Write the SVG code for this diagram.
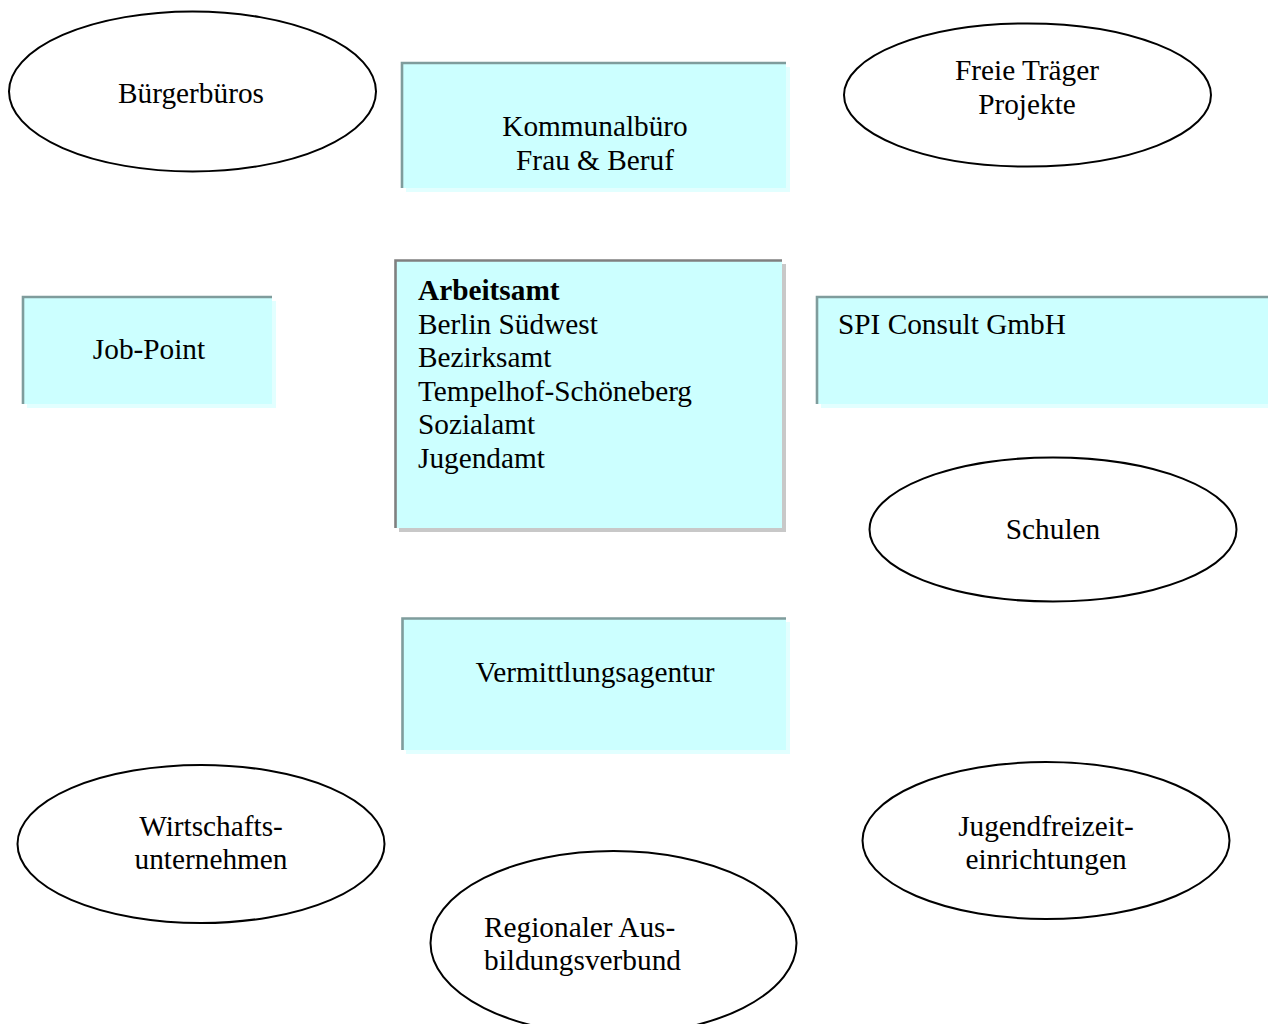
<svg xmlns="http://www.w3.org/2000/svg" width="1268" height="1024" viewBox="0 0 1268 1024">
<style>
.t{font-family:"Liberation Serif","Times New Roman",serif;font-size:29.3px;fill:#000}
.c{text-anchor:middle}
.b{font-weight:bold}
.ell{fill:#fff;stroke:#000;stroke-width:2}
.fill{fill:#ccffff}
.sh{fill:#e2ffff}
.shg{fill:#c8c8c8}
.bd{stroke:#7f9c9c;stroke-width:2.6;fill:none}
.bdg{stroke:#808080;stroke-width:2.6;fill:none}
</style>
<rect width="1268" height="1024" fill="#fff"/>
<g id="connectors"></g>

<g id="buergerbueros">
<ellipse class="ell" cx="192.5" cy="91.5" rx="183.5" ry="80"/>
<text class="t c" x="191" y="102.5">Bürgerbüros</text>
</g>

<g id="kommunalbuero">
<rect class="sh" x="406" y="67" width="384" height="125"/>
<rect class="fill" x="402" y="63" width="384" height="125"/>
<path class="bd" d="M786,63 H402 V188"/>
<text class="t c" x="595" y="135.5">Kommunalbüro</text>
<text class="t c" x="595" y="169.5">Frau &amp; Beruf</text>
</g>

<g id="freie-traeger">
<ellipse class="ell" cx="1027.5" cy="95" rx="183.5" ry="71.5"/>
<text class="t c" x="1027" y="79.5">Freie Träger</text>
<text class="t c" x="1027" y="113.5">Projekte</text>
</g>

<g id="job-point">
<rect class="sh" x="27" y="301" width="249" height="107"/>
<rect class="fill" x="23" y="297" width="249" height="107"/>
<path class="bd" d="M272,297 H23 V404"/>
<text class="t c" x="149" y="359">Job-Point</text>
</g>

<g id="arbeitsamt">
<rect class="shg" x="399" y="264" width="387" height="268"/>
<rect class="fill" x="395.5" y="260.5" width="386.5" height="267.5"/>
<path class="bdg" d="M782,260.5 H395.5 V528"/>
<text class="t b" x="418" y="300">Arbeitsamt</text>
<text class="t" x="418" y="334">Berlin Südwest</text>
<text class="t" x="418" y="367">Bezirksamt</text>
<text class="t" x="418" y="401">Tempelhof-Schöneberg</text>
<text class="t" x="418" y="434">Sozialamt</text>
<text class="t" x="418" y="468">Jugendamt</text>
</g>

<g id="spi-consult">
<rect class="sh" x="821" y="301" width="447" height="107"/>
<rect class="fill" x="817" y="297" width="451" height="107"/>
<path class="bd" d="M1268,297 H817 V404"/>
<text class="t" x="838" y="334">SPI Consult GmbH</text>
</g>

<g id="schulen">
<ellipse class="ell" cx="1053" cy="529.5" rx="183.5" ry="72"/>
<text class="t c" x="1053" y="538.5">Schulen</text>
</g>

<g id="vermittlungsagentur">
<rect class="sh" x="406" y="622" width="384" height="132"/>
<rect class="fill" x="402" y="618" width="384" height="132"/>
<path class="bd" d="M786,618.5 H402.5 V750"/>
<text class="t c" x="595" y="681.5">Vermittlungsagentur</text>
</g>

<g id="wirtschaftsunternehmen">
<ellipse class="ell" cx="201" cy="844" rx="183.5" ry="79"/>
<text class="t c" x="211" y="835.5">Wirtschafts-</text>
<text class="t c" x="211" y="869">unternehmen</text>
</g>

<g id="jugendfreizeiteinrichtungen">
<ellipse class="ell" cx="1046" cy="840.5" rx="183.5" ry="78.5"/>
<text class="t c" x="1046" y="835.5">Jugendfreizeit-</text>
<text class="t c" x="1046" y="869">einrichtungen</text>
</g>

<g id="ausbildungsverbund">
<ellipse class="ell" cx="613.5" cy="943" rx="183" ry="92"/>
<text class="t" x="484" y="936.5">Regionaler Aus-</text>
<text class="t" x="484" y="970">bildungsverbund</text>
</g>
</svg>
